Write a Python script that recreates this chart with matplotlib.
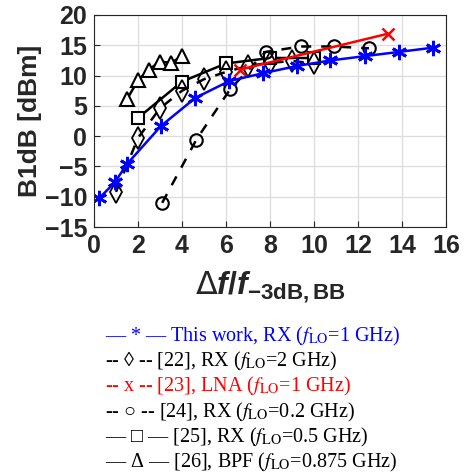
import matplotlib
matplotlib.use("Agg")
import matplotlib.pyplot as plt

# data (x = delta f / f_-3dB,BB, y = B1dB in dBm)
this_x = [0.25, 0.95, 1.5, 3.05, 4.6, 6.15, 7.7, 9.25, 10.75, 12.3, 13.85, 15.4]
this_y = [-10.2, -7.6, -4.6, 1.7, 6.3, 9.1, 10.4, 11.6, 12.5, 13.2, 13.9, 14.6]

ref22_x = [1.0, 2.0, 3.0, 4.0, 5.0, 6.0, 7.0, 8.0, 9.0, 10.0]
ref22_y = [-9.2, -0.3, 4.6, 7.5, 9.4, 10.6, 11.6, 12.1, 12.4, 12.0]

ref23_x = [6.65, 13.35]
ref23_y = [11.0, 16.9]

ref24_x = [3.1, 4.65, 6.2, 7.8, 9.4, 10.9, 12.5]
ref24_y = [-11.0, -0.6, 7.8, 13.9, 14.8, 14.8, 14.5]

ref25_x = [2.0, 4.0, 6.0, 8.0, 10.0]
ref25_y = [3.0, 9.0, 12.0, 12.9, 12.9]

ref26_x = [1.5, 2.0, 2.5, 3.0, 3.5, 4.0]
ref26_y = [6.1, 9.2, 11.0, 12.3, 12.1, 13.2]

legend_lines = [
    ("\u2014 * \u2014 This work, RX ($f_{\\rm LO}$=1 GHz)", "blue"),
    ("-- \u25ca -- [22], RX ($f_{\\rm LO}$=2 GHz)", "black"),
    ("-- x -- [23], LNA ($f_{\\rm LO}$=1 GHz)", "red"),
    ("-- \u25cb -- [24], RX ($f_{\\rm LO}$=0.2 GHz)", "black"),
    ("\u2014 \u25a1 \u2014 [25], RX ($f_{\\rm LO}$=0.5 GHz)", "black"),
    ("\u2014 \u0394 \u2014 [26], BPF ($f_{\\rm LO}$=0.875 GHz)", "black"),
]

plt.rcParams['mathtext.fontset'] = 'custom'
plt.rcParams['mathtext.rm'] = 'Liberation Sans:bold'
plt.rcParams['mathtext.bf'] = 'Liberation Sans:bold'
plt.rcParams['mathtext.it'] = 'Liberation Sans:italic:bold'
plt.rcParams['mathtext.sf'] = 'DejaVu Sans'

fig = plt.figure(figsize=(4.66, 4.74), dpi=100)
ax = fig.add_axes([0.2017, 0.521, 0.7553, 0.4474])

ax.plot(ref26_x, ref26_y, color='black', lw=1.8, marker='^', ms=10, mfc='white', mec='black', mew=1.5)
ax.plot(ref25_x, ref25_y, color='black', lw=1.8, marker='s', ms=9, mfc='white', mec='black', mew=1.5)
ax.plot(ref24_x, ref24_y, color='black', lw=1.8, ls=(0, (4, 4)), marker='o', ms=9, mfc='none', mec='black', mew=1.5)
ax.plot(ref22_x, ref22_y, color='black', lw=1.8, ls=(0, (4, 4)), marker='d', ms=11, mfc='none', mec='black', mew=1.3)
ax.plot(ref23_x, ref23_y, color='red', lw=1.8, marker='x', ms=9, mew=1.8)
ax.plot(this_x, this_y, color='blue', lw=1.8, marker=(6, 2, 0), ms=11, mew=2)

ax.set_xlim(0, 16)
ax.set_ylim(-15, 20)
ax.set_xticks(range(0, 17, 2))
ax.set_yticks(range(-15, 21, 5))
ax.grid(True, color='#dcdcdc', lw=0.9)
ax.set_axisbelow(True)
ax.tick_params(direction='in', length=4, colors='#262626', labelsize=18, pad=5)
for lbl in ax.get_xticklabels() + ax.get_yticklabels():
    lbl.set_fontfamily('Liberation Sans')
    lbl.set_fontweight('bold')
for sp in ax.spines.values():
    sp.set_color('#262626')

fig.text(0.065, 0.7446, 'B1dB [dBm]', rotation=90, ha='center', va='center',
         fontsize=19, fontweight='bold', family='Liberation Sans', color='#262626')
fig.text(0.58, 0.395, r'$\mathsf{\Delta}\mathit{f/f}_{\mathrm{-3dB,BB}}$', ha='center', va='center',
         fontsize=23, color='#262626')

y0 = 336.7
for i, (txt, col) in enumerate(legend_lines):
    t = fig.text(0.225, 1 - (y0 + 25.1 * i) / 474, txt, ha='left', va='center',
                 fontsize=14.5, family='Liberation Serif', color=col)
    t.set_math_fontfamily('stix')

fig.savefig('out.png', dpi=100)
